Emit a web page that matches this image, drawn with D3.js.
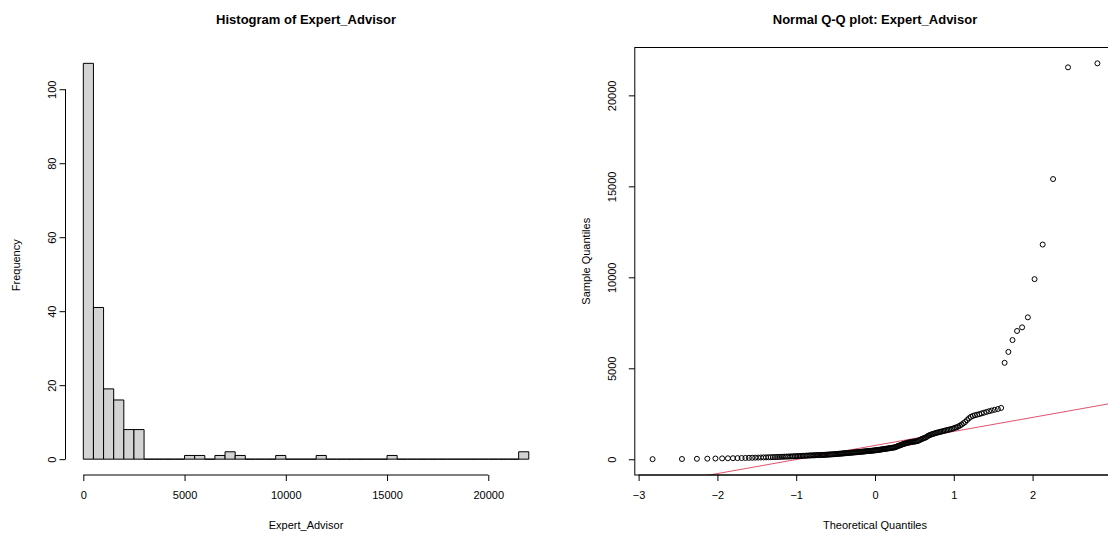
<!DOCTYPE html>
<html>
<head>
<meta charset="utf-8">
<script src="https://cdn.jsdelivr.net/npm/d3@7"></script>
<style>
  html, body { margin: 0; padding: 0; background: #fff; overflow: hidden; }
  svg { display: block; }
  text { font-family: "Liberation Sans", Arial, sans-serif; fill: #000; }
</style>
</head>
<body>
<svg id="chart" width="1108" height="533"></svg>
<script>
// Expert_Advisor observations (n = 210), sorted ascending
const expertAdvisor = [
  5, 14, 24, 32, 40, 47, 53, 58, 63, 68,
  73, 78, 83, 88, 93, 98, 102, 106, 110, 114,
  118, 122, 126, 130, 134, 138, 142, 146, 150, 154,
  158, 162, 166, 170, 174, 178, 182, 186, 190, 194,
  198, 202, 206, 210, 213, 216, 219, 222, 225, 228,
  231, 234, 236, 239, 242, 246, 250, 254, 258, 262,
  266, 270, 274, 278, 283, 288, 293, 298, 303, 308,
  313, 318, 323, 328, 333, 338, 343, 348, 353, 358,
  363, 368, 373, 378, 383, 388, 393, 398, 403, 408,
  413, 418, 423, 428, 433, 438, 443, 448, 453, 458,
  463, 468, 474, 480, 486, 492, 498,
  505, 512, 520, 528, 536, 544, 552, 560, 568, 576,
  584, 592, 600, 608, 616, 625, 634, 643, 652, 662,
  690, 715, 735, 755, 775, 795, 815, 835, 855, 870,
  885, 900, 912, 924, 936, 948, 958, 966, 974, 982, 992,
  1010, 1040, 1070, 1100, 1125, 1150, 1175, 1200, 1240, 1290,
  1320, 1345, 1370, 1395, 1415, 1435, 1455, 1475, 1495,
  1510, 1530, 1550, 1570, 1590, 1610, 1630, 1650, 1670, 1700,
  1730, 1760, 1800, 1850, 1910, 1980,
  2050, 2150, 2250, 2330, 2380, 2420, 2450, 2480,
  2520, 2560, 2600, 2640, 2680, 2720, 2760, 2820,
  5300, 5900, 6550, 7050, 7250, 7800, 9900, 11800, 15400, 21540, 21760
];

// Histogram breaks and axis ticks
const binWidth = 500;
const breakMax = 22000;
const histXTicks = [0, 5000, 10000, 15000, 20000];
const histYTicks = [0, 20, 40, 60, 80, 100];
const qqXTicks = [-3, -2, -1, 0, 1, 2, 3];
const qqYTicks = [0, 5000, 10000, 15000, 20000];

const svg = d3.select("#chart");

// Standard normal quantile function (Acklam's rational approximation)
function qnorm(p) {
  const a = [-3.969683028665376e+01, 2.209460984245205e+02, -2.759285104469687e+02,
             1.383577518672690e+02, -3.066479806614716e+01, 2.506628277459239e+00];
  const b = [-5.447609879822406e+01, 1.615858368580409e+02, -1.556989798598866e+02,
             6.680131188771972e+01, -1.328068155288572e+01];
  const c = [-7.784894002430293e-03, -3.223964580411365e-01, -2.400758277161838e+00,
             -2.549732539343734e+00, 4.374664141464968e+00, 2.938163982698783e+00];
  const d = [7.784695709041462e-03, 3.224671290700398e-01, 2.445134137142996e+00,
             3.754408661907416e+00];
  const pl = 0.02425, ph = 1 - pl;
  let q, r;
  if (p < pl) {
    q = Math.sqrt(-2 * Math.log(p));
    return (((((c[0]*q+c[1])*q+c[2])*q+c[3])*q+c[4])*q+c[5]) /
           ((((d[0]*q+d[1])*q+d[2])*q+d[3])*q+1);
  }
  if (p <= ph) {
    q = p - 0.5; r = q * q;
    return (((((a[0]*r+a[1])*r+a[2])*r+a[3])*r+a[4])*r+a[5])*q /
           (((((b[0]*r+b[1])*r+b[2])*r+b[3])*r+b[4])*r+1);
  }
  q = Math.sqrt(-2 * Math.log(1 - p));
  return -(((((c[0]*q+c[1])*q+c[2])*q+c[3])*q+c[4])*q+c[5]) /
          ((((d[0]*q+d[1])*q+d[2])*q+d[3])*q+1);
}

// Extend a range by 4% on each side
function padded(lo, hi) {
  const pad = 0.04 * (hi - lo);
  return [lo - pad, hi + pad];
}

// Rotated labels for left axes: text reads bottom to top, centred at cx
function rotateLeftLabels(g, cx) {
  g.selectAll(".tick text")
    .attr("x", null).attr("y", null)
    .attr("dy", "0.35em")
    .attr("text-anchor", "middle")
    .attr("transform", `translate(${cx},0) rotate(-90)`);
}

const tickFont = 11;
const titleFont = 13;

/* ---------------- Histogram ---------------- */
{
  const left = 65.5, right = 546.6, top = 47.5, bottom = 475;

  const bins = d3.bin()
    .domain([0, breakMax])
    .thresholds(d3.range(binWidth, breakMax, binWidth))(expertAdvisor);
  const maxCount = d3.max(bins, b => b.length);

  const x = d3.scaleLinear().domain(padded(0, breakMax)).range([left, right]);
  const y = d3.scaleLinear().domain(padded(0, maxCount)).range([bottom, top]);

  // Bars (zero-count bins still draw as a line on the baseline)
  svg.append("g")
    .selectAll("path")
    .data(bins)
    .join("path")
    .attr("d", b => {
      const x0 = x(b.x0), x1 = x(b.x1), y0 = y(0), y1 = y(b.length);
      return `M${x0},${y0}V${y1}H${x1}V${y0}Z`;
    })
    .attr("fill", "#d3d3d3")
    .attr("stroke", "#000")
    .attr("stroke-width", 1);

  // x axis
  const gx = svg.append("g")
    .attr("transform", `translate(0,${bottom})`)
    .call(d3.axisBottom(x).tickValues(histXTicks).tickFormat(d3.format("d"))
      .tickSizeInner(6).tickSizeOuter(0).tickPadding(10));
  gx.select(".domain").remove();
  gx.append("line")
    .attr("x1", x(histXTicks[0])).attr("x2", x(histXTicks[histXTicks.length - 1]))
    .attr("stroke", "#000");
  gx.selectAll("text").attr("font-size", tickFont).attr("fill", "#000");

  // y axis
  const gy = svg.append("g")
    .attr("transform", `translate(${left},0)`)
    .call(d3.axisLeft(y).tickValues(histYTicks).tickFormat(d3.format("d"))
      .tickSizeInner(6).tickSizeOuter(0));
  gy.select(".domain").remove();
  gy.append("line")
    .attr("y1", y(histYTicks[0])).attr("y2", y(histYTicks[histYTicks.length - 1]))
    .attr("stroke", "#000");
  gy.selectAll("text").attr("font-size", tickFont).attr("fill", "#000");
  rotateLeftLabels(gy, -13);

  // Titles
  svg.append("text")
    .attr("x", (left + right) / 2).attr("y", 24)
    .attr("text-anchor", "middle")
    .attr("font-size", titleFont).attr("font-weight", "bold")
    .text("Histogram of Expert_Advisor");
  svg.append("text")
    .attr("x", (left + right) / 2).attr("y", 529)
    .attr("text-anchor", "middle")
    .attr("font-size", 11)
    .text("Expert_Advisor");
  svg.append("text")
    .attr("transform", `translate(16,${(top + bottom) / 2 + 4}) rotate(-90)`)
    .attr("dy", "0.35em")
    .attr("text-anchor", "middle")
    .attr("font-size", 11)
    .text("Frequency");
}

/* ---------------- Normal Q-Q plot ---------------- */
{
  const left = 634.8, right = 1115.2, top = 47.5, bottom = 475;
  const n = expertAdvisor.length;
  const sorted = expertAdvisor.slice().sort((a, b) => a - b);
  const a = n <= 10 ? 3 / 8 : 0.5;
  const pts = sorted.map((v, i) => ({ t: qnorm((i + 1 - a) / (n + 1 - 2 * a)), v }));

  const x = d3.scaleLinear().domain(padded(d3.min(pts, d => d.t), d3.max(pts, d => d.t))).range([left, right]);
  const y = d3.scaleLinear().domain(padded(sorted[0], sorted[n - 1])).range([bottom, top]);

  svg.append("defs").append("clipPath").attr("id", "qqclip")
    .append("rect")
    .attr("x", left).attr("y", top)
    .attr("width", right - left).attr("height", bottom - top);

  // Reference line through the quartiles
  const q1 = d3.quantileSorted(sorted, 0.25), q3 = d3.quantileSorted(sorted, 0.75);
  const z1 = qnorm(0.25), z3 = qnorm(0.75);
  const slope = (q3 - q1) / (z3 - z1);
  const intercept = q1 - slope * z1;
  const [xd0, xd1] = x.domain();
  svg.append("line")
    .attr("clip-path", "url(#qqclip)")
    .attr("x1", x(xd0)).attr("y1", y(intercept + slope * xd0))
    .attr("x2", x(xd1)).attr("y2", y(intercept + slope * xd1))
    .attr("stroke", "#df536b").attr("stroke-width", 1);

  // Points
  svg.append("g")
    .selectAll("circle")
    .data(pts)
    .join("circle")
    .attr("cx", d => x(d.t)).attr("cy", d => y(d.v))
    .attr("r", 2.5)
    .attr("fill", "none").attr("stroke", "#000").attr("stroke-width", 1);

  // Box
  svg.append("rect")
    .attr("x", left).attr("y", top)
    .attr("width", right - left).attr("height", bottom - top)
    .attr("fill", "none").attr("stroke", "#000").attr("stroke-width", 1);

  // Axes
  const gx = svg.append("g")
    .attr("transform", `translate(0,${bottom})`)
    .call(d3.axisBottom(x).tickValues(qqXTicks).tickFormat(d3.format("d"))
      .tickSizeInner(6).tickSizeOuter(0).tickPadding(10));
  gx.select(".domain").remove();
  gx.append("line")
    .attr("x1", x(qqXTicks[0])).attr("x2", x(qqXTicks[qqXTicks.length - 1]))
    .attr("stroke", "#000");
  gx.selectAll("text").attr("font-size", tickFont).attr("fill", "#000");

  const gy = svg.append("g")
    .attr("transform", `translate(${left},0)`)
    .call(d3.axisLeft(y).tickValues(qqYTicks).tickFormat(d3.format("d"))
      .tickSizeInner(6).tickSizeOuter(0));
  gy.select(".domain").remove();
  gy.selectAll("text").attr("font-size", tickFont).attr("fill", "#000");
  rotateLeftLabels(gy, -23);

  // Titles
  svg.append("text")
    .attr("x", (left + right) / 2).attr("y", 24)
    .attr("text-anchor", "middle")
    .attr("font-size", titleFont).attr("font-weight", "bold")
    .text("Normal Q-Q plot: Expert_Advisor");
  svg.append("text")
    .attr("x", (left + right) / 2).attr("y", 529)
    .attr("text-anchor", "middle")
    .attr("font-size", 11)
    .text("Theoretical Quantiles");
  svg.append("text")
    .attr("transform", `translate(586,${(top + bottom) / 2}) rotate(-90)`)
    .attr("dy", "0.35em")
    .attr("text-anchor", "middle")
    .attr("font-size", 11)
    .text("Sample Quantiles");
}
</script>
</body>
</html>
